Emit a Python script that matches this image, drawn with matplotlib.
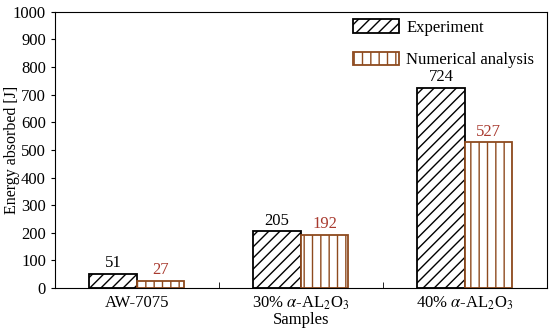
import matplotlib
matplotlib.use("Agg")
import matplotlib.pyplot as plt
import numpy as np

plt.rcParams['font.family'] = ['Liberation Serif', 'DejaVu Serif']
plt.rcParams['mathtext.fontset'] = 'stix'
plt.rcParams['hatch.linewidth'] = 1.0

# data
samples = ["AW-7075", r"30% $\alpha$-AL$_2$O$_3$", r"40% $\alpha$-AL$_2$O$_3$"]
experiment = [51, 205, 724]
numerical = [27, 192, 527]

brown = "#8E4A1E"
lab_red = "#A8392E"
fs = 12

fig = plt.figure(figsize=(5.5, 3.35), dpi=100)
ax = fig.add_axes([0.1, 0.14, 0.894, 0.825])

x = np.arange(len(samples))
w = 0.29
b1 = ax.bar(x - w / 2, experiment, w, facecolor='white', edgecolor='black',
            hatch='///', linewidth=1.3, label='Experiment')
b2 = ax.bar(x + w / 2, numerical, w, facecolor='white', edgecolor=brown,
            hatch='||', linewidth=1.3, label='Numerical analysis')
for p in b2:
    p._hatch_color = matplotlib.colors.to_rgba(brown)

for xi, v in zip(x, experiment):
    ax.text(xi - w / 2, v + 10, str(v), ha='center', va='bottom', fontsize=fs)
for xi, v in zip(x, numerical):
    ax.text(xi + w / 2, v + 10, str(v), ha='center', va='bottom', fontsize=fs,
            color=lab_red)

ax.set_xlim(-0.5, 2.5)
ax.set_ylim(0, 1000)
ax.set_yticks(np.arange(0, 1001, 100))
ax.set_xticks(x)
ax.set_xticklabels(samples, fontsize=fs)
ax.set_xticks([0.5, 1.5], minor=True)
ax.tick_params(axis='x', which='major', length=0, pad=5)
ax.tick_params(axis='x', which='minor', length=4, direction='in')
ax.tick_params(axis='y', length=3, labelsize=fs)
ax.set_ylabel("Energy absorbed [J]", fontsize=11.5)
ax.yaxis.set_label_coords(-0.072, 0.5)
ax.set_xlabel("Samples", fontsize=fs, labelpad=0)

leg = ax.legend(loc='upper left', bbox_to_anchor=(0.606, 0.972), frameon=False,
                fontsize=fs, handlelength=2.75, handleheight=0.85,
                labelspacing=0.97, handletextpad=0.45, borderpad=0,
                borderaxespad=0)

fig.savefig("out.png", dpi=100)
